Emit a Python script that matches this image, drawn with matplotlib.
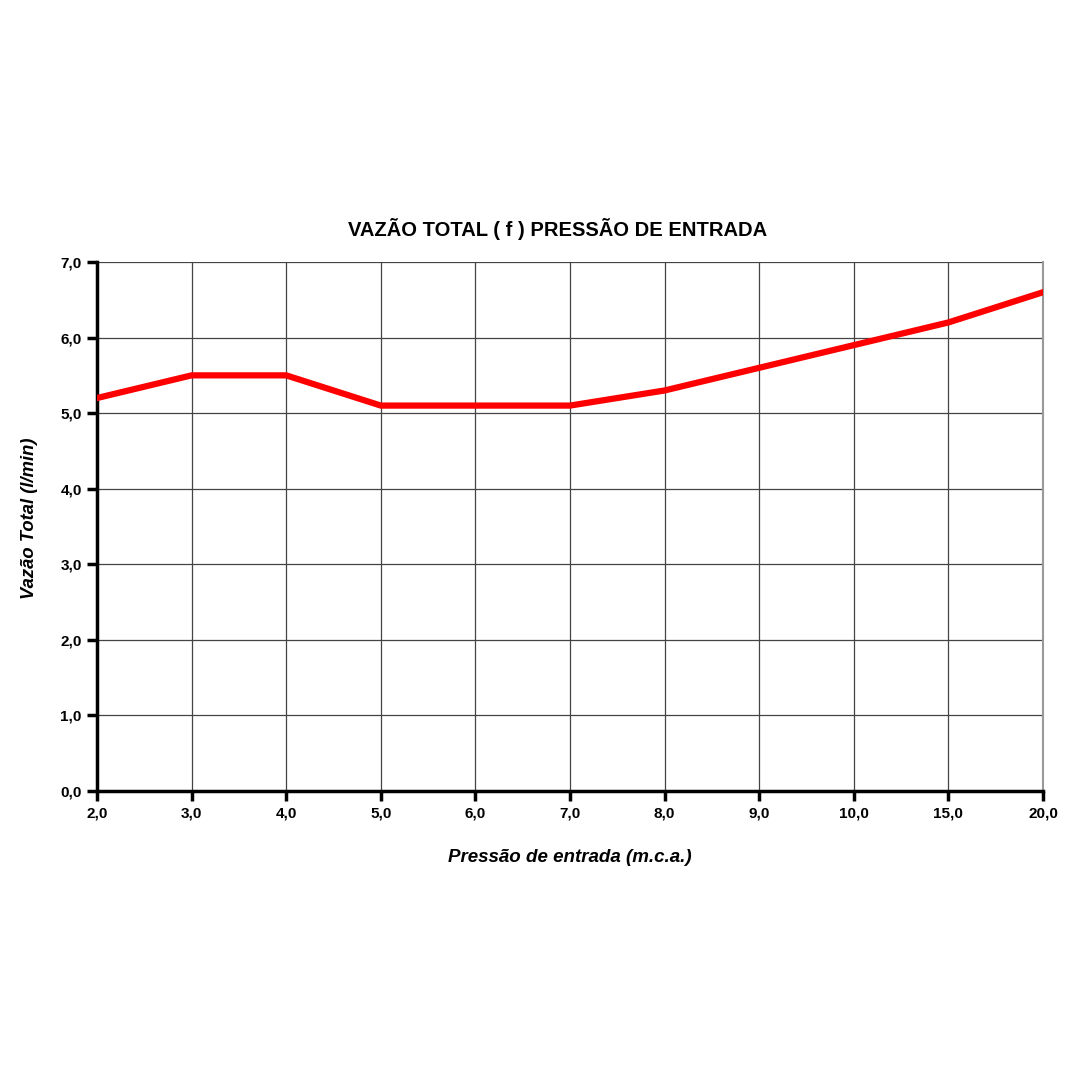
import matplotlib.pyplot as plt

# data
pressao = ["2,0", "3,0", "4,0", "5,0", "6,0", "7,0", "8,0", "9,0", "10,0", "15,0", "20,0"]
vazao = [5.2, 5.5, 5.5, 5.1, 5.1, 5.1, 5.3, 5.6, 5.9, 6.2, 6.6]
yticks = [0, 1, 2, 3, 4, 5, 6, 7]
ylabels = ["0,0", "1,0", "2,0", "3,0", "4,0", "5,0", "6,0", "7,0"]

plt.rcParams['font.family'] = ['Liberation Sans', 'DejaVu Sans']

fig = plt.figure(figsize=(10.8, 10.8), dpi=100)
ax = fig.add_axes([97/1080, 1 - 791/1080, (1043-97)/1080, (791-262)/1080])

x = list(range(len(pressao)))
ax.plot(x, vazao, color='#ff0000', linewidth=4.5, solid_joinstyle='miter', zorder=3)

ax.set_xlim(0, len(pressao) - 1)
ax.set_ylim(0, 7)
ax.set_xticks(x)
ax.set_xticklabels(pressao, fontsize=11, fontweight='bold')
ax.set_yticks(yticks)
ax.set_yticklabels(ylabels, fontsize=11, fontweight='bold')

ax.grid(True, color='#444444', linewidth=0.9)
ax.set_axisbelow(True)
ax.spines['top'].set_visible(False)
ax.spines['right'].set_color('#999999')
ax.spines['right'].set_linewidth(1.5)
ax.spines['left'].set_linewidth(2.5)
ax.spines['bottom'].set_linewidth(2.5)
ax.tick_params(axis='both', length=7, width=2.5, direction='out', pad=4)

# title sits a bit left of the axes centre in the original
ax.set_title("VAZÃO TOTAL ( f ) PRESSÃO DE ENTRADA", fontsize=14.5, fontweight='bold', pad=19, x=0.487)
ax.set_xlabel("Pressão de entrada (m.c.a.)", fontsize=13.5, fontweight='bold', style='italic', labelpad=21)
ax.set_ylabel("Vazão Total (l/min)", fontsize=13.2, fontweight='bold', style='italic')
ax.yaxis.set_label_coords(-0.062, 0.515)

fig.savefig("out.png", dpi=100)
